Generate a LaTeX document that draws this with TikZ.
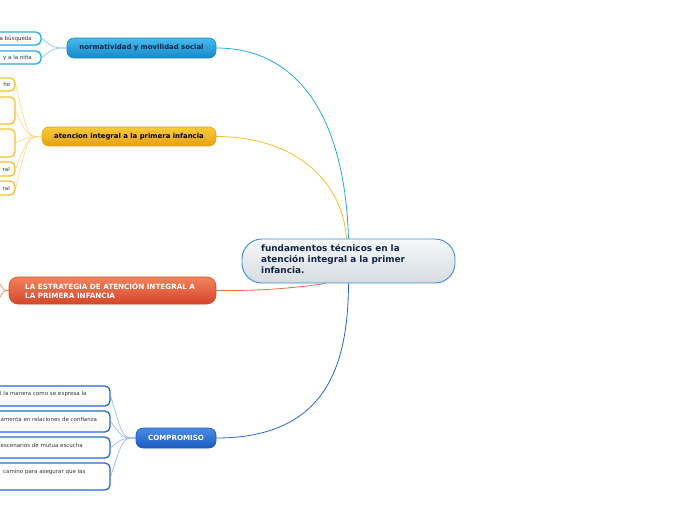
\documentclass[tikz,border=0pt]{standalone}
\usepackage{fontspec}
\setmainfont{DejaVu Sans}
\usetikzlibrary{backgrounds}
\definecolor{bluetop}{HTML}{45BBEE}
\definecolor{bluebot}{HTML}{1689C9}
\definecolor{blueln}{HTML}{2AA6E2}
\definecolor{yeltop}{HTML}{FACB3C}
\definecolor{yelbot}{HTML}{E6A010}
\definecolor{yelln}{HTML}{F7BE2A}
\definecolor{redtop}{HTML}{F2835C}
\definecolor{redbot}{HTML}{D5462A}
\definecolor{redln}{HTML}{EE6A45}
\definecolor{dbtop}{HTML}{4A8CE4}
\definecolor{dbbot}{HTML}{1A5CC0}
\definecolor{dbln}{HTML}{2468D0}
\definecolor{navy}{HTML}{122548}
\definecolor{ctrtop}{HTML}{F6F8FA}
\definecolor{ctrbot}{HTML}{D6DCE1}
\definecolor{ctrln}{HTML}{3C8CD8}
\definecolor{childtxt}{HTML}{333333}
\tikzset{
  branch/.style={rounded corners=7pt, inner sep=0pt, font=\fontsize{6.9}{8}\selectfont\bfseries},
  childbox/.style={rounded corners=5pt, draw, line width=1.3pt, fill=white, inner sep=0pt},
  childtext/.style={inner sep=0pt, text=childtxt, font=\fontsize{5.5}{6.5}\selectfont},
  conn/.style={line width=0.8pt},
  sub/.style={line width=0.7pt}
}
\begin{document}
\begin{tikzpicture}[x=1pt,y=-1pt]
\useasboundingbox (0,0) rectangle (696,520);
\clip (0,0) rectangle (696,520);

% central
\node[rounded corners=20pt, draw=ctrln, line width=0.9pt, top color=ctrtop, bottom color=ctrbot,
      minimum width=213pt, minimum height=44pt, inner sep=0pt] (c) at (348.5,261) {};
\node[anchor=north west, inner sep=0pt, align=left, text=navy,
      font=\fontsize{8.9}{11}\selectfont\bfseries] (ct) at (261,244)
  {fundamentos técnicos en la\\atención integral a la primer\\infancia.};

% branch 1
\node[branch, draw=bluebot, line width=0.6pt, top color=bluetop, bottom color=bluebot, text=navy,
      minimum width=149pt, minimum height=20pt] (b1) at (141.5,48) {normatividad y movilidad social};
\node[childbox, draw=blueln, minimum width=81pt, minimum height=13pt] (c1a) at (0.5,38.5) {};
\node[childbox, draw=blueln, minimum width=81pt, minimum height=13pt] (c1b) at (0.5,57.5) {};
\node[childtext, anchor=base east] (t1a) at (32,40.7) {a búsqueda};
\node[childtext, anchor=base east] (t1b) at (32,59.7) {y a la niña};

% branch 2
\node[branch, draw=yelbot, line width=0.6pt, top color=yeltop, bottom color=yelbot, text=black,
      minimum width=174pt, minimum height=19pt] (b2) at (129,136.5) {atencion integral a la primera infancia};
\node[childbox, draw=yelln, minimum width=50pt, minimum height=13pt] (c2a) at (-10,84.5) {};
\node[childbox, draw=yelln, minimum width=50pt, minimum height=27pt] (c2b) at (-10,110.5) {};
\node[childbox, draw=yelln, minimum width=50pt, minimum height=28pt] (c2c) at (-10,143) {};
\node[childbox, draw=yelln, minimum width=50pt, minimum height=14pt] (c2d) at (-10,169) {};
\node[childbox, draw=yelln, minimum width=50pt, minimum height=14pt] (c2e) at (-10,188) {};
\node[childtext, anchor=base east] (t2a) at (10.5,86.7) {ho};
\node[childtext, anchor=base east] (t2d) at (10,171.2) {ral};
\node[childtext, anchor=base east] (t2e) at (10,190.2) {ral};

% branch 3
\node[branch, draw=redbot, line width=0.6pt, top color=redtop, bottom color=redbot,
      minimum width=207pt, minimum height=27pt, rounded corners=9pt] (b3) at (112.5,290.5) {};
\node[anchor=north west, inner sep=0pt, align=left, text=white,
      font=\fontsize{7.2}{9}\selectfont\bfseries] (b3t) at (25,282.2)
  {LA ESTRATEGIA DE ATENCIÓN INTEGRAL A\\LA PRIMERA INFANCIA};

% branch 4
\node[branch, draw=dbbot, line width=0.6pt, top color=dbtop, bottom color=dbbot, text=white,
      font=\fontsize{7.1}{8}\selectfont\bfseries,
      minimum width=80pt, minimum height=20pt] (b4) at (176,438) {COMPROMISO};
\node[childbox, draw=dbln, minimum width=140pt, minimum height=20pt] (c4a) at (40,396) {};
\node[childbox, draw=dbln, minimum width=140pt, minimum height=21pt] (c4b) at (40,421.5) {};
\node[childbox, draw=dbln, minimum width=140pt, minimum height=21pt] (c4c) at (40,447.5) {};
\node[childbox, draw=dbln, minimum width=140pt, minimum height=27pt] (c4d) at (40,476.5) {};
\node[childtext, anchor=base west] (t4a) at (0,395.2) {l la manera como se expresa la};
\node[childtext, anchor=base west] (t4b) at (0.5,421.2) {amenta en relaciones de confianza};
\node[childtext, anchor=base west] (t4c) at (0.5,447.2) {escenarios de mutua escucha};
\node[childtext, anchor=base west] (t4d) at (3,473.2) {camino para asegurar que las};

\begin{scope}[on background layer]
  % main connectors
  \draw[conn, blueln] (b1.east) .. controls (300,48) and (345,120) .. (c.north);
  \draw[conn, yelln] (b2.east) .. controls (300,137) and (343,185) .. ([xshift=-2pt]c.north);
  \draw[conn, redln] (b3.east) .. controls (270,291) and (300,287) .. ([xshift=-23pt]c.south);
  \draw[conn, dbln] (b4.east) .. controls (330,438) and (348,360) .. (c.south);
  % sub connectors
  \foreach \n in {c1a,c1b}
    \draw[sub, blueln!60] (b1.west) .. controls (54,48) and (54,48) .. (\n.east);
  \foreach \n in {c2a,c2b,c2c,c2d,c2e}
    \draw[sub, yelln!55] (b2.west) .. controls (28,137) and (28,137) .. (\n.east);
  \foreach \n in {c4a,c4b,c4c,c4d}
    \draw[sub, dbln!45] (b4.west) .. controls (123,438) and (123,438) .. (\n.east);
  \coordinate (r1) at (0,284);
  \coordinate (r2) at (0,297);
  \draw[sub, redln!80] (b3.west) .. controls (4,290.5) .. (r1);
  \draw[sub, redln!80] (b3.west) .. controls (4,290.5) .. (r2);
\end{scope}
\end{tikzpicture}
\end{document}
